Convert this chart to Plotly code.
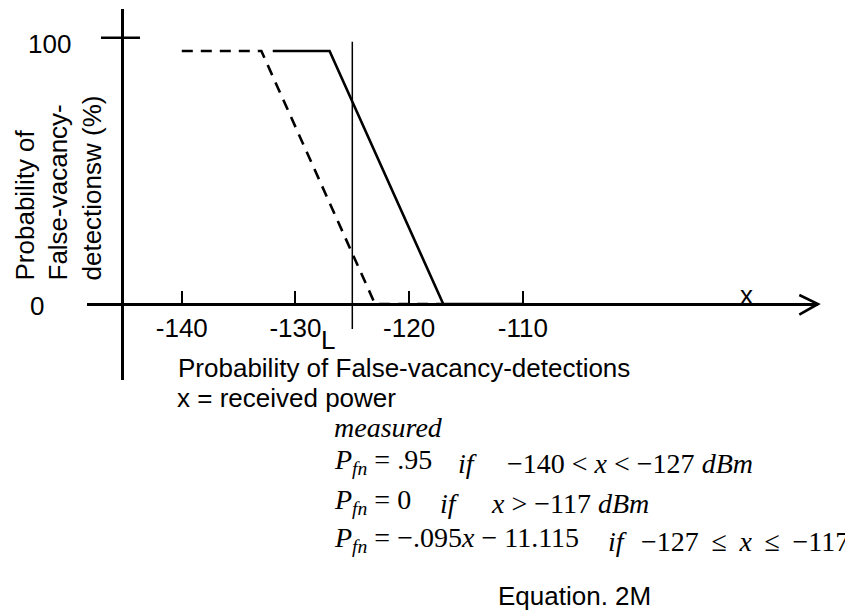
import plotly.graph_objects as go

# Canvas size in pixels
W, H = 845, 612

# ---- data -------------------------------------------------------------
# received power (dBm) vs probability of false-vacancy detection (%)
shifted_x = [-140, -133, -123, -117]
shifted_y = [95, 95, 0, 0]
measured_x = [-132, -127, -117, -110]
measured_y = [95, 95, 0, 0]

tick_vals = [-140, -130, -120, -110]
tick_text = ["-140", "-130", "-120", "-110"]
threshold_x = -125
threshold_span = [-9.4, 98.5]
y_tick_vals = [0, 100]
y_tick_text = ["0", "100"]

# ---- layout geometry (pixels) ----------------------------------------
PX_PER_DB = 11.367          # horizontal scale
PX_AT_M140 = 181.8          # pixel column of -140 dBm
AXIS_LEFT_PX, ARROW_TIP_PX = 87, 818
Y0_PX, Y100_PX = 304.0, 37.7
YAXIS_TOP_PX, YAXIS_BOTTOM_PX = 9, 380
YAXIS_PX = 121.7

PX_PER_PCT = (Y0_PX - Y100_PX) / 100.0


def db_at(px):
    return -140 + (px - PX_AT_M140) / PX_PER_DB


def pct_at(py):
    return (Y0_PX - py) / PX_PER_PCT


def fx(px):
    return px / W


def fy(py):
    return 1 - py / H


SANS = "Liberation Sans, Arial, sans-serif"
SERIF = "Liberation Serif, Times New Roman, serif"

fig = go.Figure()

fig.add_trace(go.Scatter(
    x=shifted_x, y=shifted_y, mode="lines",
    line=dict(color="black", width=2.6, dash="11px,8px"),
    hoverinfo="skip"))
fig.add_trace(go.Scatter(
    x=measured_x, y=measured_y, mode="lines",
    line=dict(color="black", width=2.6),
    hoverinfo="skip"))

shapes = [
    # threshold marker
    dict(type="line", xref="x", yref="y",
         x0=threshold_x, x1=threshold_x,
         y0=threshold_span[0], y1=threshold_span[1],
         line=dict(color="black", width=1.5)),
    # 100 % tick crossing the vertical axis
    dict(type="line", xref="paper", yref="y",
         x0=fx(101), x1=fx(140), y0=y_tick_vals[1], y1=y_tick_vals[1],
         line=dict(color="black", width=2.6)),
    # open arrow head at the end of the power axis
    dict(type="path", xref="paper", yref="paper",
         path=(f"M {fx(799.3)},{fy(295.0)} L {fx(ARROW_TIP_PX)},{fy(Y0_PX)} "
               f"L {fx(799.3)},{fy(314.7)}"),
         line=dict(color="black", width=2.6)),
]

annotations = []


def note(text, x, baseline, size=26, family=SANS, anchor="left",
         descent=0.212):
    annotations.append(dict(
        text=text, xref="paper", yref="paper",
        x=fx(x), y=fy(baseline + descent * size),
        xanchor=anchor, yanchor="bottom", showarrow=False,
        borderpad=0, borderwidth=0,
        font=dict(family=family, size=size, color="black")))


# y tick labels
note(y_tick_text[1], 71, 53, anchor="right")
note(y_tick_text[0], 44, 315, anchor="right")

# axis names
note("x", 746, 304, anchor="center")
note("L", 321, 349)

# rotated title of the vertical axis
annotations.append(dict(
    text="Probability of<br>False-vacancy-<br>detectionsw (%)",
    xref="paper", yref="paper", x=fx(59), y=fy(281),
    xanchor="center", yanchor="bottom", align="left", textangle=-90,
    showarrow=False, borderpad=0, borderwidth=0,
    font=dict(family=SANS, size=26, color="black")))

note("Probability of False-vacancy-detections", 178, 377)
note("x = received power", 177, 407)

# model equations
S = 28
D = 0.216
GAP = " \u2009"   # wide relation spacing
note("<i>measured</i>", 334, 437, S, SERIF, descent=D)
P = "<i>P</i><sub><i>fn</i></sub>"
note(f"{P} = .95", 334, 473, S, SERIF, descent=D)
note("<i>if</i>", 458, 473, S, SERIF, descent=D)
note("\u2212140 &lt; <i>x</i> &lt; \u2212127 <i>dBm</i>", 507, 473, S, SERIF, descent=D)
note(f"{P} = 0", 334, 513, S, SERIF, descent=D)
note("<i>if</i>", 440, 513, S, SERIF, descent=D)
note("<i>x</i> &gt; \u2212117 <i>dBm</i>", 491, 513, S, SERIF, descent=D)
note(f"{P} = \u2212.095<i>x</i> \u2212 11.115", 334, 551, S, SERIF, descent=D)
note("<i>if</i>", 608, 551, S, SERIF, descent=D)
note(f"\u2212127{GAP}\u2264{GAP}<i>x</i>{GAP}\u2264{GAP}\u2212117",
     641, 551, S, SERIF, descent=D)

note("Equation. 2M", 498, 605)

fig.update_layout(
    width=W, height=H,
    margin=dict(l=0, r=0, t=0, b=0, pad=0),
    paper_bgcolor="white", plot_bgcolor="white",
    showlegend=False,
    font=dict(family=SANS, size=26, color="black"),
    xaxis=dict(
        domain=[fx(AXIS_LEFT_PX), fx(ARROW_TIP_PX)],
        range=[db_at(AXIS_LEFT_PX), db_at(ARROW_TIP_PX)],
        anchor="free", position=fy(Y0_PX),
        showline=True, linecolor="black", linewidth=3,
        showgrid=False, zeroline=False,
        tickmode="array", tickvals=tick_vals, ticktext=tick_text,
        ticks="inside", ticklen=12, tickwidth=2, tickcolor="black",
        tickfont=dict(family=SANS, size=26, color="black"),
        fixedrange=True,
    ),
    yaxis=dict(
        domain=[fy(YAXIS_BOTTOM_PX), fy(YAXIS_TOP_PX)],
        range=[pct_at(YAXIS_BOTTOM_PX), pct_at(YAXIS_TOP_PX)],
        anchor="free", position=fx(YAXIS_PX),
        showline=True, linecolor="black", linewidth=2.6,
        showgrid=False, zeroline=False, ticks="", showticklabels=False,
        fixedrange=True,
    ),
    shapes=shapes,
    annotations=annotations,
)

fig.write_html("out.html")
